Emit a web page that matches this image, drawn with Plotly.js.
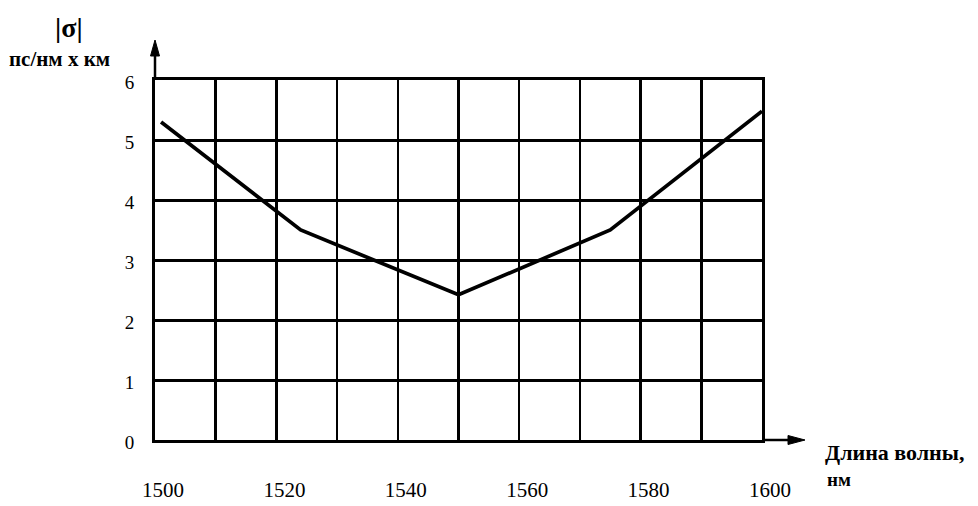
<!DOCTYPE html>
<html>
<head>
<meta charset="utf-8">
<script src="https://cdn.plot.ly/plotly-3.0.1.min.js"></script>
<style>html,body{margin:0;padding:0;background:#fff;}#chart{width:978px;height:506px;}</style>
</head>
<body>
<div id="chart"></div>
<script>
// Data
const wavelength = [1501, 1524, 1550, 1575, 1600];
const sigma = [5.3, 3.5, 2.42, 3.5, 5.48];
const xTickVals = [1500, 1510, 1520, 1530, 1540, 1550, 1560, 1570, 1580, 1590, 1600];
const xTickText = ['1500', '', '1520', '', '1540', '', '1560', '', '1580', '', '1600'];
const yTickVals = [0, 1, 2, 3, 4, 5, 6];
const yTickText = ['0', '1', '2', '3', '4', '5', '6'];

const W = 978, H = 506;
const L = 155, R = 216, T = 80, B = 66;
const pw = W - L - R, ph = H - T - B;
const px = v => v / pw, py = v => v / ph;

const serif = 'Liberation Serif, Times New Roman, serif';

const trace = {
  x: wavelength, y: sigma, type: 'scatter', mode: 'lines',
  line: {color: '#000', width: 3.7}, hoverinfo: 'skip'
};

const layout = {
  width: W, height: H,
  margin: {l: L, r: R, t: T, b: B, pad: 0},
  paper_bgcolor: '#fff', plot_bgcolor: '#fff',
  showlegend: false,
  font: {family: serif, color: '#000', size: 20},
  xaxis: {
    range: [1500, 1600], tickvals: xTickVals, ticktext: xTickText,
    showgrid: true, gridcolor: '#000', gridwidth: 2.5,
    zeroline: false, showline: true, mirror: true, linecolor: '#000', linewidth: 3,
    ticks: '', ticklabelstandoff: 29, ticklabelshift: 8,
    tickfont: {family: serif, size: 21, color: '#000'}, fixedrange: true
  },
  yaxis: {
    range: [0, 6], tickvals: yTickVals, ticktext: yTickText,
    showgrid: true, gridcolor: '#000', gridwidth: 3,
    zeroline: false, showline: true, mirror: true, linecolor: '#000', linewidth: 3,
    ticks: '', ticklabelstandoff: 14, ticklabelshift: 2,
    tickfont: {family: serif, size: 19, color: '#000'}, fixedrange: true
  },
  shapes: [
    {type: 'line', xref: 'paper', yref: 'paper', x0: 0, x1: 0, y0: 1, y1: 1 + py(28),
     line: {color: '#000', width: 2.5}},
    {type: 'path', xref: 'paper', yref: 'paper',
     path: `M 0 ${1 + py(40)} L ${-px(4.5)} ${1 + py(24)} L ${px(4.5)} ${1 + py(24)} Z`,
     fillcolor: '#000', line: {color: '#000', width: 1}},
    {type: 'line', xref: 'paper', yref: 'paper', x0: 1, x1: 1 + px(32), y0: 0, y1: 0,
     line: {color: '#000', width: 2.5}},
    {type: 'path', xref: 'paper', yref: 'paper',
     path: `M ${1 + px(43)} 0 L ${1 + px(26)} ${py(4.5)} L ${1 + px(26)} ${-py(4.5)} Z`,
     fillcolor: '#000', line: {color: '#000', width: 1}}
  ],
  annotations: [
    {text: '<b>|σ|</b>', xref: 'paper', yref: 'paper', x: px(69 - L), y: 1 + py(T - 27),
     xanchor: 'center', yanchor: 'middle', showarrow: false, font: {family: serif, size: 28}},
    {text: '<b>пс/нм х км</b>', xref: 'paper', yref: 'paper', x: px(59 - L), y: 1 + py(T - 59),
     xanchor: 'center', yanchor: 'middle', showarrow: false, font: {family: serif, size: 21}},
    {text: '<b>Длина волны,</b>', xref: 'paper', yref: 'paper', x: px(823 - L), y: -py(452 - (H - B)),
     xanchor: 'left', yanchor: 'middle', showarrow: false, font: {family: serif, size: 22}},
    {text: '<b>нм</b>', xref: 'paper', yref: 'paper', x: px(825 - L), y: -py(479 - (H - B)),
     xanchor: 'left', yanchor: 'middle', showarrow: false, font: {family: serif, size: 19}}
  ]
};

Plotly.newPlot('chart', [trace], layout, {staticPlot: true, displayModeBar: false});
</script>
</body>
</html>
